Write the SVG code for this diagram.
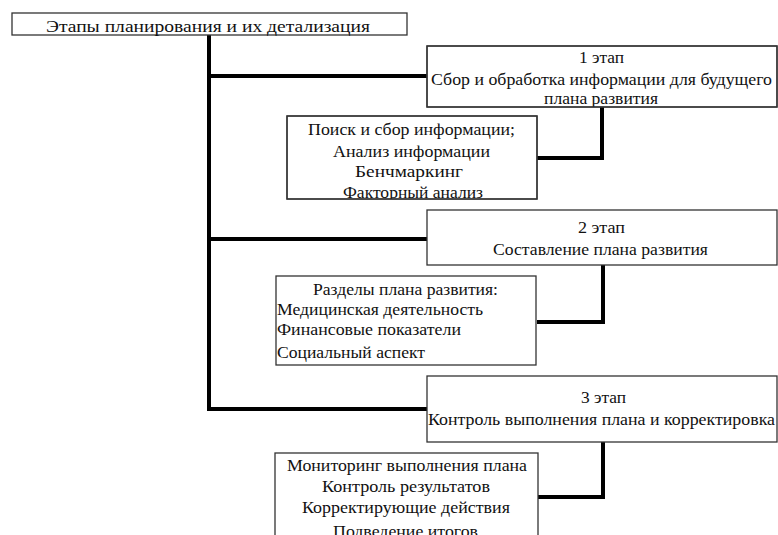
<svg xmlns="http://www.w3.org/2000/svg" width="778" height="535" viewBox="0 0 778 535">
<style>
.box{fill:#fff;stroke:#333;stroke-width:1.3}
.t{font-family:"Liberation Serif","Times New Roman",serif;font-size:17px;fill:#111}
.c{text-anchor:middle}
.conn{fill:none;stroke:#000;stroke-width:4;stroke-linejoin:miter}
</style>
<defs>
<clipPath id="cp1"><rect x="427" y="46" width="350" height="61"/></clipPath>
<clipPath id="cp2"><rect x="287" y="116" width="250" height="83"/></clipPath>
</defs>
<rect width="778" height="535" fill="#fff"/>
<g id="connectors">
<polyline class="conn" points="209,35 209,409 427,409"/>
<line class="conn" x1="209" y1="76" x2="427" y2="76"/>
<line class="conn" x1="209" y1="239" x2="427" y2="239"/>
<polyline class="conn" points="602,107 602,158 537,158"/>
<polyline class="conn" points="537,322 603,322 603,265"/>
<polyline class="conn" points="603,442 603,497 538,497"/>
</g>
<g id="title">
<rect class="box" x="12" y="13" width="395" height="22"/>
<text class="t" x="46" y="32" textLength="324" lengthAdjust="spacingAndGlyphs">Этапы планирования и их детализация</text>
</g>
<g id="stage1">
<rect class="box" x="427" y="46" width="350" height="61"/>
<g clip-path="url(#cp1)">
<text class="t" x="579" y="63" textLength="45" lengthAdjust="spacingAndGlyphs">1 этап</text>
<text class="t" x="431" y="85" textLength="341" lengthAdjust="spacingAndGlyphs">Сбор и обработка информации для будущего</text>
<text class="t" x="544" y="104" textLength="114" lengthAdjust="spacingAndGlyphs">плана развития</text>
</g>
<rect x="427" y="46" width="350" height="61" fill="none" stroke="#333" stroke-width="1.3"/>
</g>
<g id="stage1-details">
<rect class="box" x="287" y="116" width="250" height="83"/>
<g clip-path="url(#cp2)">
<text class="t" x="308" y="135" textLength="207" lengthAdjust="spacingAndGlyphs">Поиск и сбор информации;</text>
<text class="t" x="333" y="157" textLength="157" lengthAdjust="spacingAndGlyphs">Анализ информации</text>
<text class="t" x="355" y="177" textLength="108" lengthAdjust="spacingAndGlyphs">Бенчмаркинг</text>
<text class="t" x="343" y="198" textLength="140" lengthAdjust="spacingAndGlyphs">Факторный анализ</text>
</g>
<rect x="287" y="116" width="250" height="83" fill="none" stroke="#333" stroke-width="1.3"/>
</g>
<g id="stage2">
<rect class="box" x="427" y="210" width="350" height="55"/>
<text class="t" x="578" y="233" textLength="47" lengthAdjust="spacingAndGlyphs">2 этап</text>
<text class="t" x="493" y="255" textLength="215" lengthAdjust="spacingAndGlyphs">Составление плана развития</text>
</g>
<g id="stage2-details">
<rect class="box" x="276" y="276" width="260" height="89"/>
<text class="t" x="313" y="295" textLength="185" lengthAdjust="spacingAndGlyphs">Разделы плана развития:</text>
<text class="t" x="277" y="315" textLength="206" lengthAdjust="spacingAndGlyphs">Медицинская деятельность</text>
<text class="t" x="277" y="335" textLength="184" lengthAdjust="spacingAndGlyphs">Финансовые показатели</text>
<text class="t" x="277" y="358" textLength="148" lengthAdjust="spacingAndGlyphs">Социальный аспект</text>
</g>
<g id="stage3">
<rect class="box" x="427" y="376" width="350" height="66"/>
<text class="t" x="581" y="403" textLength="45" lengthAdjust="spacingAndGlyphs">3 этап</text>
<text class="t" x="428" y="425" textLength="347" lengthAdjust="spacingAndGlyphs">Контроль выполнения плана и корректировка</text>
</g>
<g id="stage3-details">
<rect class="box" x="275" y="453" width="263" height="100"/>
<text class="t" x="287" y="471" textLength="240" lengthAdjust="spacingAndGlyphs">Мониторинг выполнения плана</text>
<text class="t" x="322" y="492" textLength="168" lengthAdjust="spacingAndGlyphs">Контроль результатов</text>
<text class="t" x="302" y="513" textLength="208" lengthAdjust="spacingAndGlyphs">Корректирующие действия</text>
<text class="t" x="333" y="537" textLength="145" lengthAdjust="spacingAndGlyphs">Подведение итогов</text>
</g>
</svg>
